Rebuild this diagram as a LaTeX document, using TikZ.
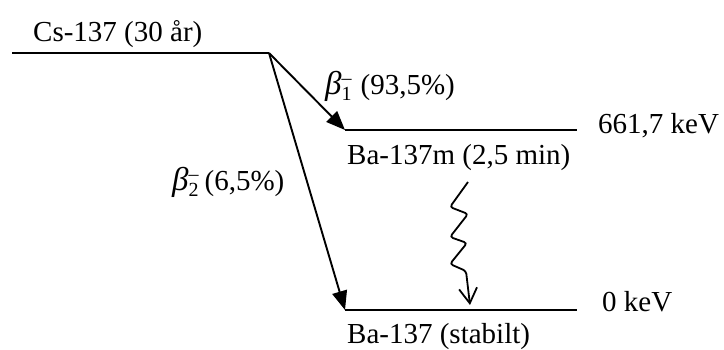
\documentclass[tikz,border=0pt]{standalone}
\usepackage{fontspec}
\setmainfont{Liberation Serif}
\usetikzlibrary{arrows.meta}
\tikzset{
  level/.style={line width=2.1pt},
  betaarrow/.style={line width=1.9pt,-{Triangle[length=19pt,width=15pt]}},
  gammaarrow/.style={line width=1.8pt,rounded corners=3pt,-{Straight Barb[length=15pt,width=18pt]}},
  lbl/.style={anchor=base west,inner sep=0pt,font=\fontsize{29}{34}\selectfont}
}
\newcommand{\betasym}[1]{{\fontsize{33}{34}\selectfont\itshape β}\raisebox{-6pt}{\fontsize{20}{16}\selectfont\shortstack[l]{–\\#1}}}
\begin{document}
\begin{tikzpicture}[x=1pt,y=-1pt]
\useasboundingbox (0,0) rectangle (724,350);
\coordinate (cs0) at (12,53);
\coordinate (cs1) at (269,53);
\coordinate (m0) at (345,130);
\coordinate (m1) at (577,130);
\coordinate (g0) at (345,310);
\coordinate (g1) at (577,310);
\coordinate (w0) at (468,182);
\coordinate (w1) at (470,305);
\draw[level] (cs0) -- (cs1);
\draw[level] (m0) -- (m1);
\draw[level] (g0) -- (g1);
\draw[betaarrow] (cs1) -- (m0);
\draw[betaarrow] (cs1) -- (g0);
\draw[gammaarrow] (w0) -- (450,207) -- (468,214) -- (450,237) -- (467,243) -- (450,264) -- (466,271) -- (w1);
\node[lbl] (cs) at (33,42) {Cs-137 (30 år)};
\node[lbl] (b1) at (325,95) {\betasym{1}\hskip 9pt(93,5\%)};
\node[lbl] (b2) at (172,191) {\betasym{2}\hskip 6pt(6,5\%)};
\node[lbl] (e1) at (598,134) {661,7 keV};
\node[lbl] (e0) at (602,312) {0 keV};
\node[lbl] (bam) at (347,165) {Ba-137m (2,5 min)};
\node[lbl] (ba) at (347,343) {Ba-137 (stabilt)};
\end{tikzpicture}
\end{document}
